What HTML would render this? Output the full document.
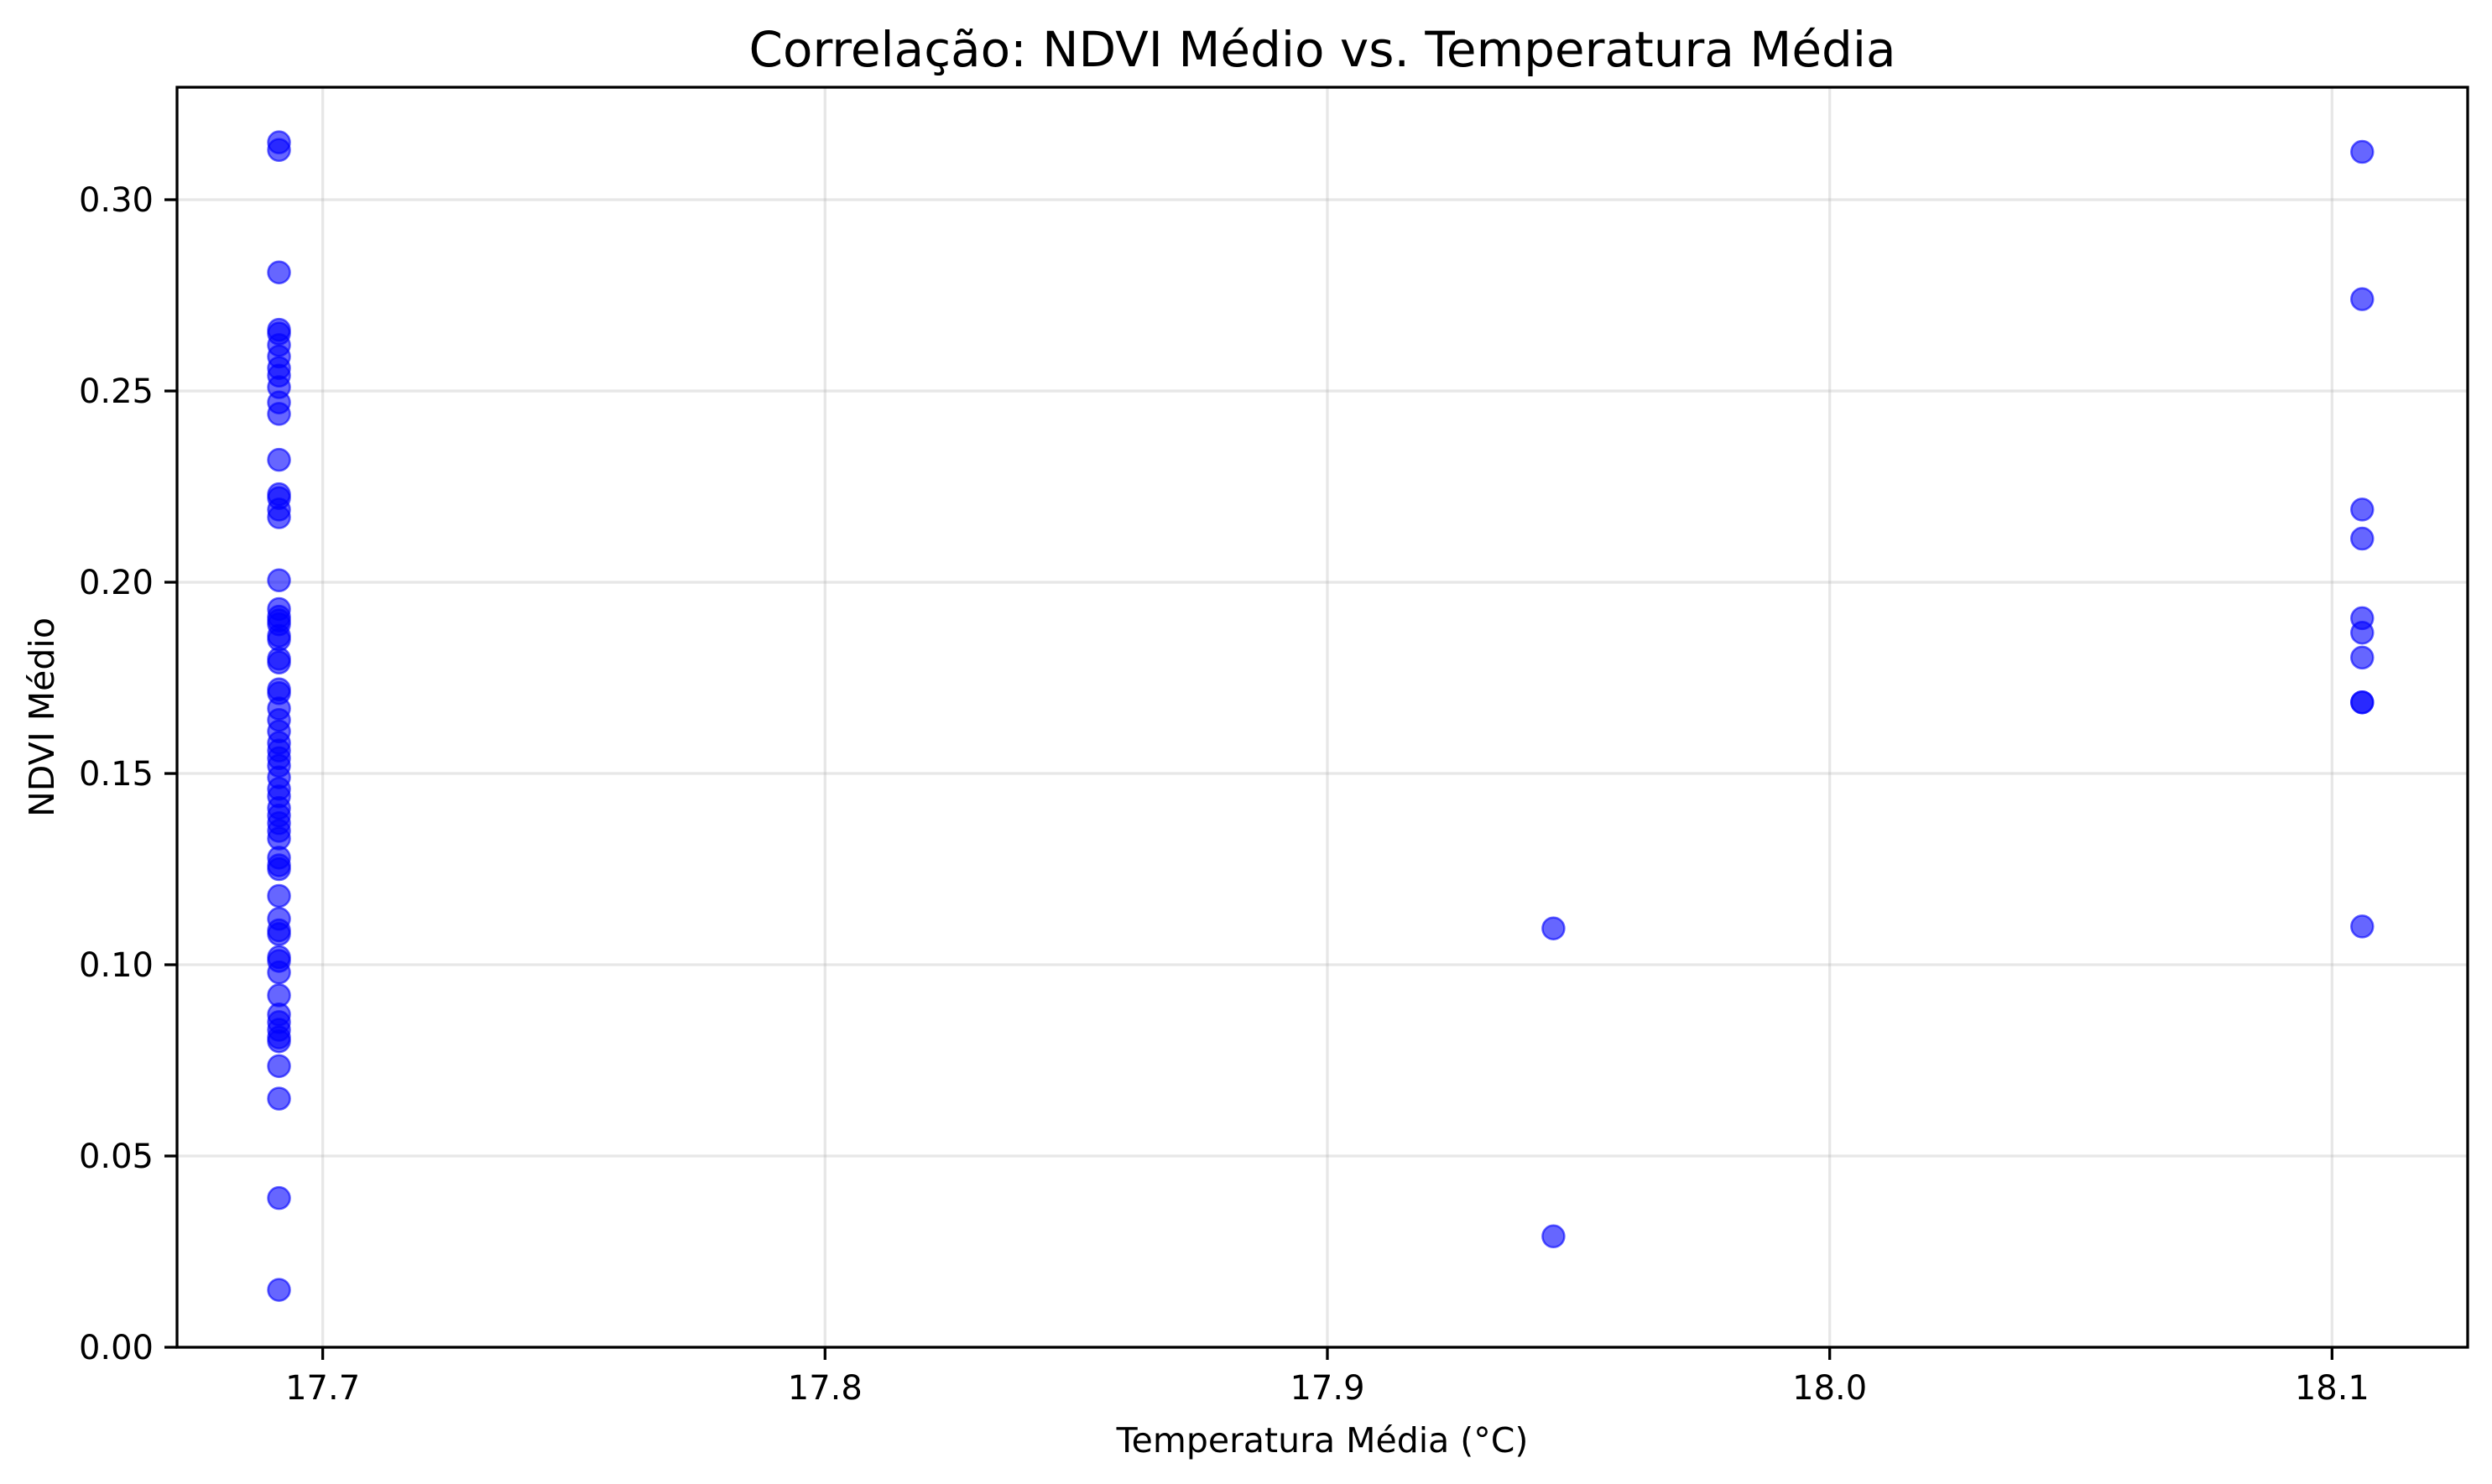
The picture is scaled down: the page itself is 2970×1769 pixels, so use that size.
<!DOCTYPE html>
<html><head><meta charset="utf-8"><style>
html,body{margin:0;padding:0;background:#fff;}
svg{display:block;font-family:"DejaVu Sans","Liberation Sans",sans-serif;}
</style></head><body>
<svg id="chart" width="2970" height="1769" xmlns="http://www.w3.org/2000/svg">
<rect width="2970" height="1769" fill="#fff"/>
<text x="1576" y="79" font-size="58" text-anchor="middle" fill="#000">Correlação: NDVI Médio vs. Temperatura Média</text>
<text x="1576" y="1731" font-size="41" text-anchor="middle" fill="#000">Temperatura Média (°C)</text>
<text x="0" y="0" font-size="41" text-anchor="middle" fill="#000" transform="translate(64,855) rotate(-90)">NDVI Médio</text>
<g id="grid"></g>
<g id="points"></g>
<g id="axes"></g>
</svg>
<script>
const xTicks = [17.7, 17.8, 17.9, 18.0, 18.1];
const xTickLabels = ["17.7", "17.8", "17.9", "18.0", "18.1"];
const yTicks = [0, 0.05, 0.10, 0.15, 0.20, 0.25, 0.30];
const yTickLabels = ["0.00", "0.05", "0.10", "0.15", "0.20", "0.25", "0.30"];
const tempA = 17.6913;
const ndviA = [0.315,0.313,0.281,0.266,0.265,0.262,0.259,0.256,0.254,0.251,0.247,0.244,0.232,0.223,0.222,0.219,0.217,0.2005,0.193,0.191,0.190,0.189,0.186,0.185,0.180,0.179,0.172,0.171,0.167,0.164,0.161,0.158,0.156,0.154,0.152,0.149,0.146,0.144,0.141,0.139,0.137,0.135,0.133,0.128,0.126,0.125,0.118,0.112,0.109,0.108,0.102,0.101,0.098,0.092,0.087,0.085,0.083,0.081,0.080,0.0735,0.065,0.039,0.015];
const tempB = 17.945;
const ndviB = [0.1095, 0.029];
const tempC = 18.106;
const ndviC = [0.3125,0.274,0.219,0.2114,0.1906,0.1868,0.1803,0.1686,0.1686,0.110];

const L=211,R=2941,T=104,B=1606;
const xMin=17.671,xMax=18.127,yMin=0,yMax=0.3294;
function sx(v){return L+(v-xMin)/(xMax-xMin)*(R-L);}
function sy(v){return B-(v-yMin)/(yMax-yMin)*(B-T);}
const NS="http://www.w3.org/2000/svg";
function mk(tag,attrs,parent){const e=document.createElementNS(NS,tag);for(const k in attrs)e.setAttribute(k,attrs[k]);parent.appendChild(e);return e;}
const grid=document.getElementById('grid'),pts=document.getElementById('points'),axes=document.getElementById('axes');

xTicks.forEach((t,i)=>{
  const x=sx(t);
  const g=mk('line',{x1:x,x2:x,y1:T,y2:B,stroke:'#b0b0b0','stroke-opacity':0.3,'stroke-width':3.3},grid);
  
  
  const tk=mk('line',{x1:x,x2:x,y1:B,y2:B+15,stroke:'#000','stroke-width':3.3},axes);
  
  
  const lb=mk('text',{x:x,y:B+62,'font-size':40,'text-anchor':'middle',fill:'#000'},axes);
  lb.textContent=xTickLabels[i];
  
  
});
yTicks.forEach((t,i)=>{
  const y=sy(t);
  const g=mk('line',{x1:L,x2:R,y1:y,y2:y,stroke:'#b0b0b0','stroke-opacity':0.3,'stroke-width':3.3},grid);
  
  
  const tk=mk('line',{x1:L-15,x2:L,y1:y,y2:y,stroke:'#000','stroke-width':3.3},axes);
  
  
  const lb=mk('text',{x:L-28,y:y+14,'font-size':40,'text-anchor':'end',fill:'#000'},axes);
  lb.textContent=yTickLabels[i];
  
  
});
function plot(temp,arr){
  arr.forEach(v=>{
    const c=mk('circle',{cx:sx(temp),cy:sy(v),r:13,fill:'rgba(0,0,255,0.6)',stroke:'rgba(0,0,255,0.6)','stroke-width':2.5},pts);
    
    
  });
}
plot(tempA,ndviA);plot(tempB,ndviB);plot(tempC,ndviC);
const fr=mk('rect',{x:L,y:T,width:R-L,height:B-T,fill:'none',stroke:'#000','stroke-width':3.3},axes);


</script>
</body></html>
